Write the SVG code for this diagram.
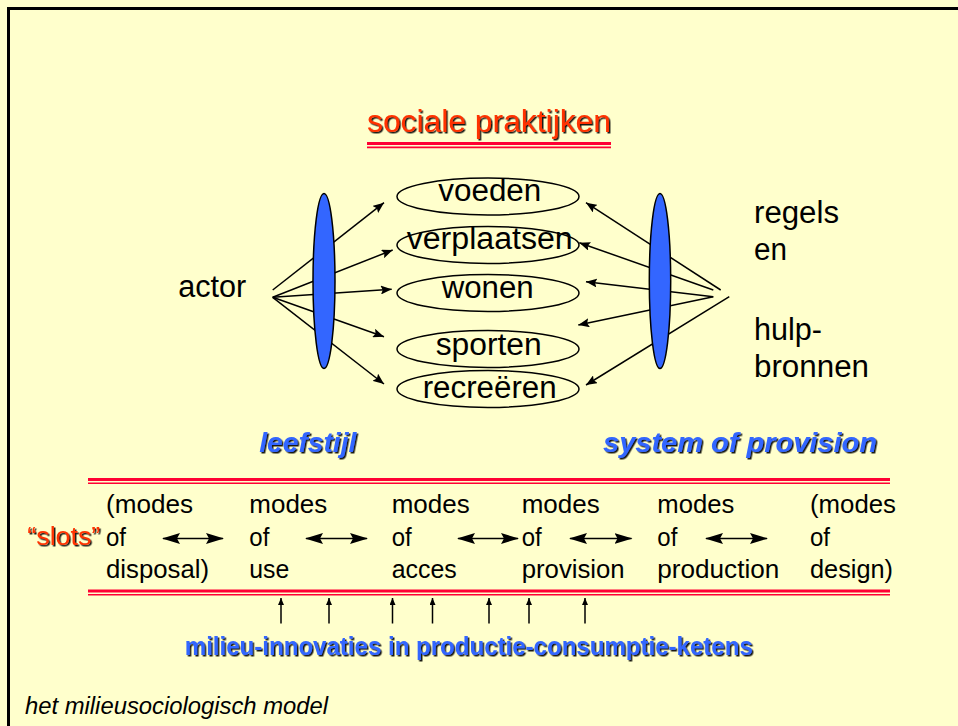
<svg xmlns="http://www.w3.org/2000/svg" width="958" height="726" viewBox="0 0 958 726">
<defs>
<style>
text{font-family:"Liberation Sans",Arial,sans-serif;fill:#000}
.t26{font-size:31px}
.t21{font-size:26px}
.red{fill:#FF3300}
.blue{fill:#3366FF}
.conn{stroke:#000;stroke-width:1.5;fill:none}
.oval{fill:none;stroke:#000;stroke-width:1.5}
.lens{fill:#3366FF;stroke:#000;stroke-width:1.5}
.rl{stroke:#FF0033;fill:none}
</style>
<filter id="sh" x="-5%" y="-20%" width="110%" height="140%">
<feDropShadow dx="1.5" dy="1.5" stdDeviation="0" flood-color="#000" flood-opacity="0.9"/>
</filter>
<marker id="ah" viewBox="0 0 11 9" refX="11" refY="4.5" markerWidth="11" markerHeight="9" markerUnits="userSpaceOnUse" orient="auto">
<path d="M0,0 L11,4.5 L0,9 L2,4.5 z" fill="#000"/>
</marker>
<marker id="dh" viewBox="0 0 18 11" refX="17" refY="5.5" markerWidth="18" markerHeight="11" markerUnits="userSpaceOnUse" orient="auto-start-reverse">
<path d="M0,0 L18,5.5 L0,11 L3,5.5 z" fill="#000"/>
</marker>
<marker id="sh2" viewBox="0 0 7 6" refX="7" refY="3" markerWidth="7" markerHeight="6" markerUnits="userSpaceOnUse" orient="auto">
<path d="M0,0 L7,3 L0,6 z" fill="#000"/>
</marker>
</defs>
<rect x="0" y="0" width="958" height="726" fill="#FFFFCC"/>
<path d="M8.5,730 V8.5 H962" fill="none" stroke="#000" stroke-width="3"/>

<g id="title">
<text x="367" y="131.5" font-size="31" textLength="244" lengthAdjust="spacingAndGlyphs" class="red" filter="url(#sh)">sociale praktijken</text>
<line class="rl" x1="367" y1="143.5" x2="611" y2="143.5" stroke-width="2.8"/>
<line class="rl" x1="367" y1="147.4" x2="611" y2="147.4" stroke-width="1.6"/>
</g>

<g id="connectors">
<line class="conn" x1="272.7" y1="290" x2="384" y2="202.7" marker-end="url(#ah)"/>
<line class="conn" x1="272.7" y1="297.3" x2="392.7" y2="250" marker-end="url(#ah)"/>
<line class="conn" x1="272.7" y1="297.3" x2="391.7" y2="289.3" marker-end="url(#ah)"/>
<line class="conn" x1="272.7" y1="297.3" x2="384" y2="336.7" marker-end="url(#ah)"/>
<line class="conn" x1="272.7" y1="297.3" x2="384" y2="384" marker-end="url(#ah)"/>
<line class="conn" x1="720.7" y1="290" x2="586" y2="202.7" marker-end="url(#ah)"/>
<line class="conn" x1="713.3" y1="290" x2="579.3" y2="242.7" marker-end="url(#ah)"/>
<line class="conn" x1="713.3" y1="296.7" x2="586" y2="281.7" marker-end="url(#ah)"/>
<line class="conn" x1="713.3" y1="296.7" x2="578.3" y2="325" marker-end="url(#ah)"/>
<line class="conn" x1="729.3" y1="296.7" x2="586" y2="385" marker-end="url(#ah)"/>
<line class="conn" stroke-width="2" x1="163" y1="538.5" x2="223" y2="538.5" marker-start="url(#dh)" marker-end="url(#dh)"/>
<line class="conn" stroke-width="2" x1="306" y1="538.5" x2="367" y2="538.5" marker-start="url(#dh)" marker-end="url(#dh)"/>
<line class="conn" stroke-width="2" x1="458" y1="538.5" x2="518" y2="538.5" marker-start="url(#dh)" marker-end="url(#dh)"/>
<line class="conn" stroke-width="2" x1="570" y1="538.5" x2="631.5" y2="538.5" marker-start="url(#dh)" marker-end="url(#dh)"/>
<line class="conn" stroke-width="2" x1="706" y1="538.5" x2="767" y2="538.5" marker-start="url(#dh)" marker-end="url(#dh)"/>
<line class="conn" x1="281" y1="623.5" x2="281" y2="598" marker-end="url(#sh2)"/>
<line class="conn" x1="329" y1="623.5" x2="329" y2="598" marker-end="url(#sh2)"/>
<line class="conn" x1="392.5" y1="623.5" x2="392.5" y2="598" marker-end="url(#sh2)"/>
<line class="conn" x1="432.5" y1="623.5" x2="432.5" y2="598" marker-end="url(#sh2)"/>
<line class="conn" x1="489" y1="623.5" x2="489" y2="598" marker-end="url(#sh2)"/>
<line class="conn" x1="529" y1="623.5" x2="529" y2="598" marker-end="url(#sh2)"/>
<line class="conn" x1="585" y1="623.5" x2="585" y2="598" marker-end="url(#sh2)"/>
</g>

<g id="leefstijl-lens"><ellipse class="lens" cx="324" cy="281" rx="11" ry="87.5"/></g>
<g id="provision-lens"><ellipse class="lens" cx="660" cy="281" rx="10.7" ry="87.5"/></g>

<g id="actor"><text class="t26" x="178.3" y="297.3" font-size="30" textLength="68" lengthAdjust="spacingAndGlyphs">actor</text></g>

<g id="voeden"><ellipse class="oval" cx="488" cy="196.5" rx="91" ry="18.5"/><text class="t26" x="438.3" y="201" textLength="103" lengthAdjust="spacingAndGlyphs">voeden</text></g>
<g id="verplaatsen"><ellipse class="oval" cx="488" cy="245" rx="91" ry="18.5"/><text class="t26" x="406.7" y="249" textLength="166" lengthAdjust="spacingAndGlyphs">verplaatsen</text></g>
<g id="wonen"><ellipse class="oval" cx="488" cy="293" rx="91" ry="18.5"/><text class="t26" x="441.7" y="297.7" textLength="92" lengthAdjust="spacingAndGlyphs">wonen</text></g>
<g id="sporten"><ellipse class="oval" cx="488" cy="349" rx="91" ry="18.5"/><text class="t26" x="435.7" y="355" textLength="106" lengthAdjust="spacingAndGlyphs">sporten</text></g>
<g id="recreeren"><ellipse class="oval" cx="488" cy="389" rx="91" ry="18.5"/><text class="t26" x="422.7" y="398.3" textLength="134" lengthAdjust="spacingAndGlyphs">recreëren</text></g>

<g id="regels">
<text class="t26" x="754" y="223.3" textLength="85" lengthAdjust="spacingAndGlyphs">regels</text>
<text class="t26" x="754" y="260" textLength="33" lengthAdjust="spacingAndGlyphs">en</text>
<text class="t26" x="754" y="340" textLength="68" lengthAdjust="spacingAndGlyphs">hulp-</text>
<text class="t26" x="754" y="377.3" textLength="115" lengthAdjust="spacingAndGlyphs">bronnen</text>
</g>

<g id="labels">
<text x="259.3" y="452.4" font-size="28" font-weight="bold" font-style="italic" class="blue" textLength="97" lengthAdjust="spacingAndGlyphs" filter="url(#sh)">leefstijl</text>
<text x="603" y="452.4" font-size="28" font-weight="bold" font-style="italic" class="blue" textLength="274" lengthAdjust="spacingAndGlyphs" filter="url(#sh)">system of provision</text>
</g>

<g id="slots-band">
<line class="rl" x1="88" y1="479.5" x2="890" y2="479.5" stroke-width="3"/>
<line class="rl" x1="88" y1="483.2" x2="890" y2="483.2" stroke-width="1.6"/>
<line class="rl" x1="88" y1="591" x2="890" y2="591" stroke-width="3"/>
<line class="rl" x1="88" y1="594.7" x2="890" y2="594.7" stroke-width="1.6"/>
<text class="t21 red" x="27.3" y="545" textLength="73" lengthAdjust="spacingAndGlyphs" filter="url(#sh)">“slots”</text>
</g>

<g id="disposal">
<text class="t21" x="106" y="513.3" textLength="87" lengthAdjust="spacingAndGlyphs">(modes</text>
<text class="t21" x="106" y="545.5" textLength="20" lengthAdjust="spacingAndGlyphs">of</text>
<text class="t21" x="106" y="578.3" textLength="103" lengthAdjust="spacingAndGlyphs">disposal)</text>
</g>
<g id="use">
<text class="t21" x="249.3" y="513.3" textLength="78" lengthAdjust="spacingAndGlyphs">modes</text>
<text class="t21" x="249.3" y="545.5" textLength="20" lengthAdjust="spacingAndGlyphs">of</text>
<text class="t21" x="249.3" y="578.3" textLength="40" lengthAdjust="spacingAndGlyphs">use</text>
</g>
<g id="acces">
<text class="t21" x="391.7" y="513.3" textLength="78" lengthAdjust="spacingAndGlyphs">modes</text>
<text class="t21" x="391.7" y="545.5" textLength="20" lengthAdjust="spacingAndGlyphs">of</text>
<text class="t21" x="391.7" y="578.3" textLength="65" lengthAdjust="spacingAndGlyphs">acces</text>
</g>
<g id="provision">
<text class="t21" x="521.7" y="513.3" textLength="78" lengthAdjust="spacingAndGlyphs">modes</text>
<text class="t21" x="521.7" y="545.5" textLength="20" lengthAdjust="spacingAndGlyphs">of</text>
<text class="t21" x="521.7" y="578.3" textLength="103" lengthAdjust="spacingAndGlyphs">provision</text>
</g>
<g id="production">
<text class="t21" x="657.3" y="513.3" textLength="77" lengthAdjust="spacingAndGlyphs">modes</text>
<text class="t21" x="657.3" y="545.5" textLength="20" lengthAdjust="spacingAndGlyphs">of</text>
<text class="t21" x="657.3" y="578.3" textLength="122" lengthAdjust="spacingAndGlyphs">production</text>
</g>
<g id="design">
<text class="t21" x="810" y="513.3" textLength="86" lengthAdjust="spacingAndGlyphs">(modes</text>
<text class="t21" x="810" y="545.5" textLength="20" lengthAdjust="spacingAndGlyphs">of</text>
<text class="t21" x="810" y="578.3" textLength="83" lengthAdjust="spacingAndGlyphs">design)</text>
</g>

<g id="innovaties">
<text x="184.8" y="655.2" font-size="25" font-weight="bold" class="blue" textLength="568" lengthAdjust="spacingAndGlyphs" filter="url(#sh)">milieu-innovaties in productie-consumptie-ketens</text>
</g>

<g id="caption">
<text x="25" y="714.3" font-size="24" font-style="italic" textLength="303" lengthAdjust="spacingAndGlyphs">het milieusociologisch model</text>
</g>
</svg>
